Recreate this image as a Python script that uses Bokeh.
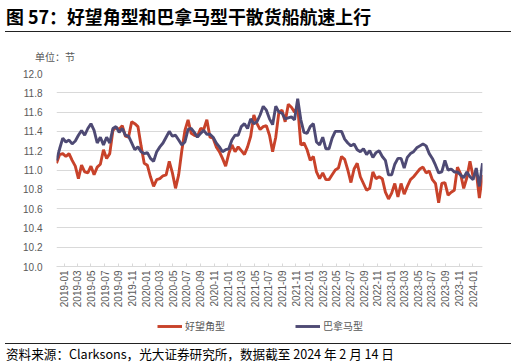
import math
import pandas as pd
from bokeh.plotting import figure
from bokeh.layouts import column
from bokeh.models import (Legend, LegendItem, DatetimeTickFormatter, MonthsTicker, Div,
                          Range1d, FixedTicker, NumeralTickFormatter)
from bokeh.embed import file_html
from bokeh.resources import INLINE

# ---- data (biweekly readings, knots) ----
dates = pd.date_range(end="2024-02-14", periods=137, freq="14D")

capesize = [
    11.07, 11.16, 11.17, 11.14, 11.17, 11.10, 11.04, 10.91, 11.05, 10.98,
    10.97, 11.04, 10.95, 11.03, 11.06, 11.21, 11.12, 11.17, 11.41, 11.44,
    11.42, 11.46, 11.35, 11.34, 11.50, 11.48, 11.45, 11.25, 11.07, 11.05,
    10.93, 10.83, 10.90, 10.91, 10.94, 10.95, 11.09, 10.97, 10.81, 10.95,
    11.20, 11.41, 11.52, 11.38, 11.36, 11.35, 11.43, 11.42, 11.52, 11.34,
    11.33, 11.24, 11.19, 11.12, 11.04, 11.17, 11.26, 11.19, 11.24, 11.20,
    11.16, 11.24, 11.35, 11.57, 11.48, 11.42, 11.45, 11.46, 11.36, 11.19,
    11.34, 11.60, 11.62, 11.50, 11.68, 11.65, 11.60, 11.66, 11.26, 11.28,
    11.21, 11.10, 11.14, 10.98, 10.91, 10.97, 10.90, 10.90, 10.95, 11.00,
    11.02, 11.14, 11.11, 11.00, 10.87, 11.01, 11.07, 10.93, 10.86, 10.79,
    10.81, 10.98, 10.91, 10.93, 10.91, 10.77, 10.70, 10.76, 10.86, 10.72,
    10.86, 10.75, 10.83, 10.90, 10.93, 10.97, 11.01, 11.03, 10.97, 10.99,
    10.90, 10.86, 10.66, 10.86, 10.87, 10.74, 10.77, 10.79, 11.03, 10.96,
    10.81, 10.92, 11.09, 10.93, 10.98, 10.71, 10.95,
]

panamax = [
    11.10, 11.22, 11.33, 11.29, 11.31, 11.27, 11.30, 11.36, 11.41, 11.36,
    11.43, 11.48, 11.41, 11.28, 11.34, 11.26, 11.34, 11.28, 11.43, 11.45,
    11.39, 11.43, 11.36, 11.35, 11.28, 11.21, 11.24, 11.19, 11.17, 11.18,
    11.12, 11.09, 11.19, 11.24, 11.28, 11.34, 11.40, 11.35, 11.36, 11.31,
    11.26, 11.29, 11.42, 11.43, 11.39, 11.34, 11.38, 11.41, 11.37, 11.37,
    11.34, 11.28, 11.24, 11.19, 11.21, 11.22, 11.31, 11.36, 11.36, 11.45,
    11.48, 11.43, 11.53, 11.48, 11.50, 11.57, 11.66, 11.62, 11.53, 11.47,
    11.66, 11.60, 11.59, 11.53, 11.54, 11.55, 11.52, 11.74, 11.52, 11.39,
    11.38, 11.45, 11.48, 11.29, 11.26, 11.34, 11.22, 11.22, 11.33, 11.40,
    11.40, 11.40, 11.32, 11.28, 11.25, 11.27, 11.21, 11.19, 11.22, 11.16,
    11.20, 11.13, 11.18, 11.20, 11.14, 11.10, 10.95, 10.95, 11.06, 11.12,
    11.12, 11.02, 11.13, 11.17, 11.19, 11.23, 11.25, 11.27, 11.25, 11.17,
    11.12, 11.05, 10.97, 10.98, 11.10, 11.00, 11.01, 10.98, 10.98, 10.95,
    10.92, 10.98, 10.93, 10.90, 11.02, 10.83, 11.07,
]

y_ticks = [10.0, 10.2, 10.4, 10.6, 10.8, 11.0, 11.2, 11.4, 11.6, 11.8, 12.0]
series_names = ["好望角型", "巴拿马型"]
series_colors = ["#C8422A", "#4E4A74"]
title_text = "图 57：好望角型和巴拿马型干散货船航速上行"
unit_text = "单位：节"
source_text = "资料来源：Clarksons，光大证券研究所，数据截至 2024 年 2 月 14 日"

GRAY_TXT = "#595959"
GRID = "#D9D9D9"
CJK = "Noto Sans CJK SC"
LAT = "Liberation Sans"
W = 516

header = Div(width=W, height=65, margin=0, text=(
    '<div style="position:relative;width:516px;height:65px;">'
    f'<div style="position:absolute;left:6px;top:7px;line-height:18px;white-space:nowrap;'
    f'font-family:\'{CJK}\';font-size:17.9px;font-weight:bold;color:#000;">{title_text}</div>'
    '<div style="position:absolute;left:5px;top:31px;width:506px;height:0;'
    'border-top:1px solid #222;"></div>'
    f'<div style="position:absolute;left:35px;top:52px;line-height:10px;white-space:nowrap;'
    f'font-family:\'{CJK}\';font-size:10px;color:{GRAY_TXT};">{unit_text}</div>'
    '</div>'))

p = figure(width=W, height=251, output_backend="svg", toolbar_location=None, margin=0,
           x_axis_type="datetime",
           x_range=Range1d(dates[0].to_pydatetime(), dates[-1].to_pydatetime()),
           y_range=Range1d(10.0, 12.0),
           min_border_left=56, min_border_right=34, min_border_top=8, min_border_bottom=50)
p.outline_line_color = None
p.background_fill_color = "white"
p.border_fill_color = "white"

p.line(dates, capesize, line_color=series_colors[0], line_width=2.9)
p.line(dates, panamax, line_color=series_colors[1], line_width=2.9)

p.yaxis.ticker = FixedTicker(ticks=y_ticks)
p.yaxis.formatter = NumeralTickFormatter(format="0.0")
p.yaxis.axis_line_color = None
p.yaxis.major_tick_line_color = None
p.yaxis.minor_tick_line_color = None
p.yaxis.major_label_text_font = LAT
p.yaxis.major_label_text_font_size = "10px"
p.yaxis.major_label_text_color = GRAY_TXT
p.yaxis.major_label_standoff = 8

p.xaxis.ticker = MonthsTicker(months=[0, 2, 4, 6, 8, 10])
p.xaxis.formatter = DatetimeTickFormatter(months="%Y-%m", days="%Y-%m", years="%Y-%m")
p.xaxis.major_label_orientation = math.pi / 2
p.xaxis.axis_line_color = GRID
p.xaxis.major_tick_line_color = GRID
p.xaxis.major_tick_in = 3
p.xaxis.major_tick_out = 0
p.xaxis.minor_tick_line_color = None
p.xaxis.major_label_text_font = LAT
p.xaxis.major_label_text_font_size = "10px"
p.xaxis.major_label_text_color = GRAY_TXT
p.xaxis.major_label_standoff = 4

p.xgrid.grid_line_color = None
p.ygrid.grid_line_color = GRID
p.ygrid.grid_line_width = 1

# legend strip: its own small figure; the series are drawn there too but fall
# outside its ranges, so only the legend keys show
pl = figure(width=W, height=21, output_backend="svg", toolbar_location=None, margin=0,
            x_axis_location=None, y_axis_location=None,
            x_range=Range1d(0, 1), y_range=Range1d(0, 1),
            min_border=0, min_border_left=0, min_border_right=0,
            min_border_top=0, min_border_bottom=0)
pl.grid.visible = False
pl.outline_line_color = None
pl.background_fill_color = "white"
pl.border_fill_color = "white"
keys = [pl.line(list(range(len(v))), v, line_color=c, line_width=2.9)
        for v, c in zip([capesize, panamax], series_colors)]
legend = Legend(items=[LegendItem(label=n, renderers=[k]) for n, k in zip(series_names, keys)],
                orientation="horizontal", location=(101, 4),
                padding=0, margin=0, spacing=70, glyph_width=25, glyph_height=14,
                label_height=14, label_standoff=3, label_text_font=CJK,
                label_text_font_size="10px", label_text_color=GRAY_TXT,
                border_line_color=None, background_fill_alpha=0)
pl.add_layout(legend)

footer = Div(width=W, height=27, margin=0, text=(
    '<div style="position:relative;width:516px;height:27px;">'
    '<div style="position:absolute;left:5px;top:6px;width:506px;height:0;'
    'border-top:1px solid #222;"></div>'
    f'<div style="position:absolute;left:6px;top:10px;line-height:13px;white-space:nowrap;'
    f'font-family:\'{CJK}\';font-size:12.6px;color:#000;">{source_text}</div>'
    '</div>'))

layout = column(header, p, pl, footer, spacing=0)
open("out.html", "w").write(file_html(layout, INLINE))
